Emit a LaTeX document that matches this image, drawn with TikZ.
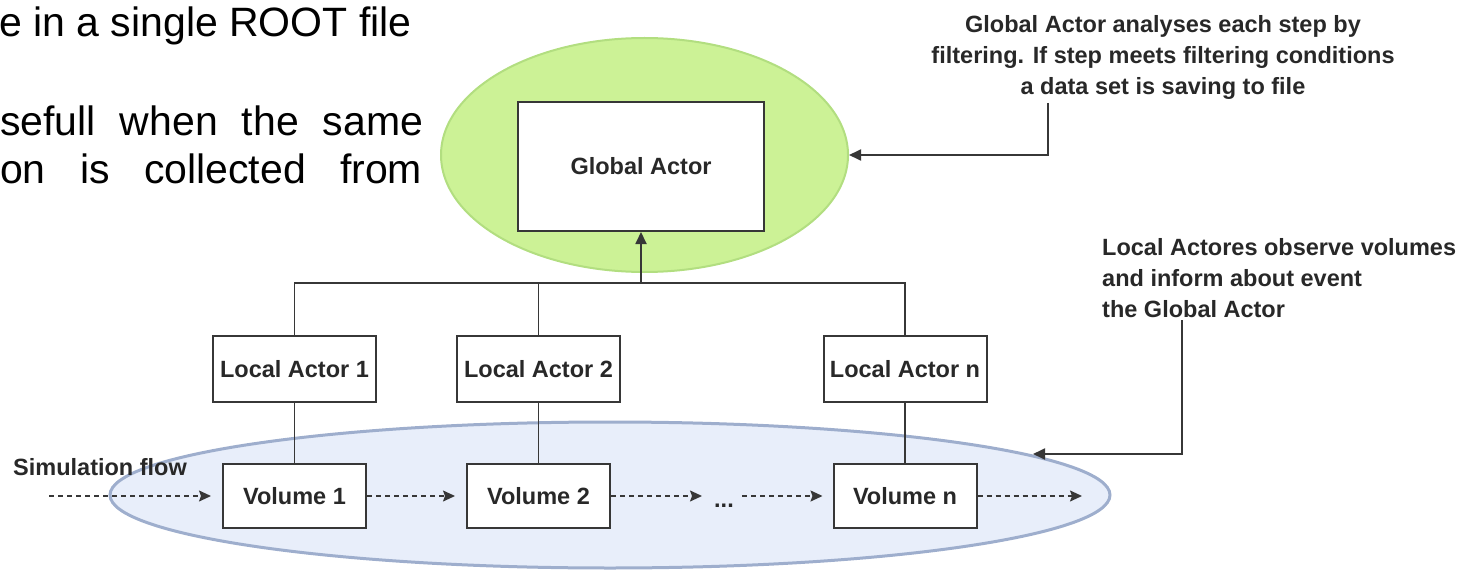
\documentclass[tikz,border=0pt]{standalone}
\usepackage{fontspec}
\setmainfont{Liberation Sans}
\usetikzlibrary{arrows.meta,shapes.geometric}

\definecolor{inkc}{RGB}{40,40,40}
\definecolor{linec}{RGB}{55,55,55}
\definecolor{greenfill}{RGB}{204,242,150}
\definecolor{greenedge}{RGB}{178,222,128}
\definecolor{bluefill}{RGB}{232,238,250}
\definecolor{blueedge}{RGB}{158,174,205}

\newcommand{\diagfont}{\fontsize{23.5}{31}\selectfont\bfseries}
\newcommand{\parafont}{\fontsize{41}{48}\selectfont}

\tikzset{
  actorbox/.style={draw=linec, line width=2pt, fill=white, inner sep=0pt,
    font=\diagfont, text=inkc},
  wire/.style={draw=linec, line width=1.8pt},
  pointer/.style={wire, -{Triangle[length=12pt,width=11pt]}},
  flow/.style={draw=linec, line width=1.6pt, dash pattern=on 5pt off 4pt,
    -{Stealth[length=12pt,width=11pt,inset=2pt]}},
  note/.style={inner sep=0pt, font=\diagfont, text=inkc},
  para/.style={inner sep=0pt, anchor=base west, font=\parafont, text=black},
}

\begin{document}
\begin{tikzpicture}[x=1pt,y=-1pt]
\useasboundingbox (0,0) rectangle (1477,572);

% text of the surrounding page
\node[para] (p1) at (-1,37) {e in a single ROOT file};
\node[para] (p2) at (0,136) {\hbox to 423pt{sefull\hfill when\hfill the\hfill same}};
\node[para] (p3) at (0,184) {\hbox to 422pt{on\hfill is\hfill collected\hfill from}};

% background regions
\node[ellipse, draw=greenedge, line width=2pt, fill=greenfill,
      minimum width=407pt, minimum height=234pt, inner sep=0pt] (gell) at (644.5,155) {};
\node[ellipse, draw=blueedge, line width=3pt, fill=bluefill,
      minimum width=1000pt, minimum height=146pt, inner sep=0pt] (bell) at (610,495) {};

% actors
\node[actorbox, minimum width=246pt, minimum height=129pt] (ga) at (641,166.5) {Global Actor};

\node[actorbox, minimum width=163pt, minimum height=66pt] (la1) at (294.5,369) {Local Actor 1};
\node[actorbox, minimum width=163pt, minimum height=66pt] (la2) at (538.5,369) {Local Actor 2};
\node[actorbox, minimum width=163pt, minimum height=66pt] (lan) at (905,369) {Local Actor n};

% volumes
\node[actorbox, minimum width=143pt, minimum height=64pt] (v1) at (294.5,496) {Volume 1};
\node[actorbox, minimum width=143pt, minimum height=64pt] (v2) at (538.5,496) {Volume 2};
\node[actorbox, minimum width=143pt, minimum height=64pt] (vn) at (905,496) {Volume n};
\node[note, anchor=base] (dots) at (724,507) {...};

% bus from local actors to the global actor
\coordinate (busL) at (294.5,283);
\coordinate (busR) at (905,283);
\draw[wire] (la1.north) -- (busL) -- (busR) -- (lan.north);
\draw[wire] (la2.north) -- (la2.north |- busL);
\draw[pointer] (ga.south |- busL) -- (ga.south);

% actors observe their volumes
\draw[wire] (la1.south) -- (v1.north);
\draw[wire] (la2.south) -- (v2.north);
\draw[wire] (lan.south) -- (vn.north);

% simulation flow
\node[note, anchor=base west] (simlabel) at (13,475) {Simulation flow};
\coordinate (flowin) at (49,496);
\coordinate (flowout) at (1082,496);
\draw[flow, shorten >=11pt] (flowin) -- (v1.west);
\draw[flow, shorten >=11pt] (v1.east) -- (v2.west);
\draw[flow, shorten >=12pt] (v2.east) -- (v2.east -| dots.west);
\draw[flow, shorten <=8pt, shorten >=10pt] (dots.east |- vn.west) -- (vn.west);
\draw[flow] (vn.east) -- (flowout);

% annotation for the global actor
\node[note, anchor=base] (gn1) at (1163,33) {Global Actor analyses each step by};
\node[note, anchor=base] (gn2) at (1163,64) {filtering. If step meets filtering conditions};
\node[note, anchor=base] (gn3) at (1163,95) {a data set is saving to file};
\coordinate (gnfoot) at (1048,103);
\draw[pointer] (gnfoot) |- (gell.east);

% annotation for the local actors
\node[note, anchor=base west] (ln1) at (1102,255) {Local Actores observe volumes};
\node[note, anchor=base west] (ln2) at (1102,286) {and inform about event};
\node[note, anchor=base west] (ln3) at (1102,317) {the Global Actor};
\coordinate (lnfoot) at (1182,320);
\coordinate (lntip) at (1033,454);
\draw[pointer] (lnfoot) |- (lntip);
\end{tikzpicture}
\end{document}
